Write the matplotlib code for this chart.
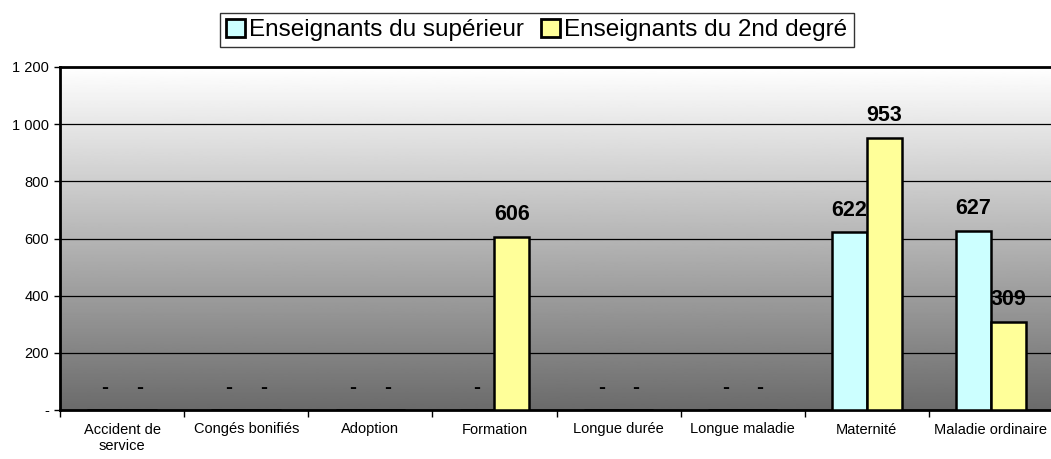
import matplotlib
matplotlib.use("Agg")
import matplotlib.pyplot as plt
import numpy as np
from matplotlib.patches import Patch

plt.rcParams["font.family"] = ["Liberation Sans", "DejaVu Sans"]

categories = ["Accident de\nservice", "Congés bonifiés", "Adoption", "Formation",
              "Longue durée", "Longue maladie", "Maternité", "Maladie ordinaire"]
superieur = [0, 0, 0, 0, 0, 0, 622, 627]
second_degre = [0, 0, 0, 606, 0, 0, 953, 309]
series_names = ["Enseignants du supérieur", "Enseignants du 2nd degré"]
colors = ["#ccffff", "#ffff99"]

W, H = 1051, 459
fig = plt.figure(figsize=(W / 100, H / 100), dpi=100)
ax = fig.add_axes([60 / W, 49 / H, 993 / W, 343 / H])

ax.set_xlim(-0.5, len(categories) - 0.5)
ax.set_ylim(0, 1200)

# gradient background: white top to dark gray bottom
grad = np.linspace(0.42, 1.0, 256).reshape(-1, 1)
ax.imshow(grad, cmap="gray", vmin=0, vmax=1, aspect="auto", origin="lower",
          extent=[-0.5, len(categories) - 0.5, 0, 1200], zorder=0)

for y in range(200, 1200, 200):
    ax.axhline(y, color="black", lw=0.9, zorder=1)

x = np.arange(len(categories))
bw = 0.28
for vals, off, c, name in [(superieur, -bw / 2, colors[0], series_names[0]),
                           (second_degre, bw / 2, colors[1], series_names[1])]:
    ax.bar(x + off, vals, width=bw, color=c, edgecolor="black", lw=1.8,
           zorder=3, label=name)
    for xi, v in zip(x + off, vals):
        if v == 0:
            ax.text(xi, 80, "-", ha="center", va="center", fontsize=15,
                    fontweight="heavy", zorder=4)
        else:
            ax.text(xi, v + 40, f"{v}", ha="center", va="bottom", fontsize=15.5,
                    fontweight="bold", zorder=4)

ax.set_yticks(range(0, 1201, 200))
ax.set_yticklabels(["-", "200", "400", "600", "800", "1 000", "1 200"], fontsize=10.5)
ax.set_xticks(np.arange(len(categories) + 1) - 0.5, minor=False)
ax.set_xticklabels([])
ax.set_xticks(x, minor=True)
ax.set_xticklabels(categories, minor=True, fontsize=10.5)
ax.tick_params(axis="x", which="minor", length=0, pad=9)
ax.tick_params(axis="x", which="major", length=5, width=1, direction="out")
ax.tick_params(axis="y", length=4, width=1, direction="out", pad=4)

for side in ["top", "left", "bottom"]:
    ax.spines[side].set_linewidth(2)
ax.spines["right"].set_visible(False)

handles = [Patch(facecolor=c, edgecolor="black", lw=2) for c in colors]
fig.legend(handles, series_names, loc="center", bbox_to_anchor=(537 / W, 1 - 30 / H),
           ncol=2, fontsize=17.5, frameon=True, fancybox=False, edgecolor="black",
           handlelength=0.75, handleheight=0.75, handletextpad=0.2, columnspacing=0.7,
           borderpad=0.25, borderaxespad=0)

fig.savefig("out.png", dpi=100)
